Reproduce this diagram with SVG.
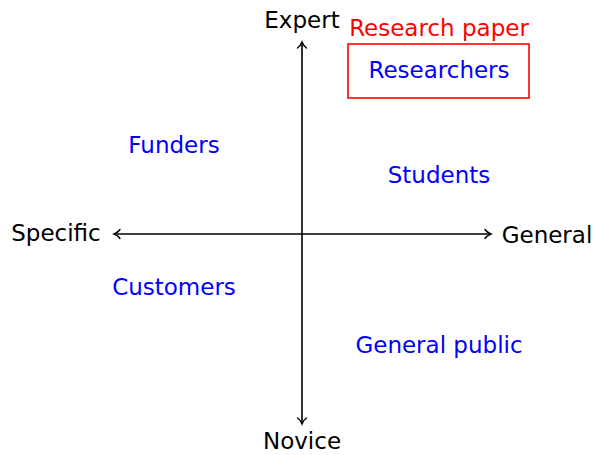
<svg xmlns="http://www.w3.org/2000/svg" width="595" height="455" viewBox="0 0 595 455">
<style>
text{font-family:"DejaVu Sans","Liberation Sans",sans-serif;font-size:23px;text-anchor:middle}
.ax{fill:#000}
.aud{fill:#0000ff}
.red{fill:#ff0000}
.axis{stroke:#000;stroke-width:1.6;fill:none}
</style>
<defs>
<marker id="arr" viewBox="-8 -6 10 12" markerWidth="10" markerHeight="12" refX="0" refY="0" orient="auto" markerUnits="userSpaceOnUse">
<path d="M-6,-4.5 C-4,-1.5 -1,-0.4 0,0 C-1,0.4 -4,1.5 -6,4.5" fill="none" stroke="#000" stroke-width="1.4" stroke-linecap="round"/>
</marker>
</defs>
<g id="connectors">
<line class="axis" x1="302" y1="234" x2="302" y2="42" marker-end="url(#arr)"/>
<line class="axis" x1="302" y1="234" x2="302" y2="424" marker-end="url(#arr)"/>
<line class="axis" x1="302" y1="234" x2="114" y2="234" marker-end="url(#arr)"/>
<line class="axis" x1="302" y1="234" x2="491" y2="234" marker-end="url(#arr)"/>
</g>
<g id="expert"><text class="ax" x="302" y="28">Expert</text></g>
<g id="novice"><text class="ax" x="302" y="449">Novice</text></g>
<g id="specific"><text class="ax" x="56" y="241">Specific</text></g>
<g id="general"><text class="ax" x="547" y="243">General</text></g>
<g id="research-paper">
<text class="red" x="439" y="36">Research paper</text>
<rect x="348" y="44" width="181" height="54" fill="none" stroke="#ff0000" stroke-width="1.6"/>
</g>
<g id="researchers"><text class="aud" x="439" y="78">Researchers</text></g>
<g id="funders"><text class="aud" x="174" y="153">Funders</text></g>
<g id="students"><text class="aud" x="439" y="183">Students</text></g>
<g id="customers"><text class="aud" x="174" y="295">Customers</text></g>
<g id="general-public"><text class="aud" x="439" y="353">General public</text></g>
</svg>
